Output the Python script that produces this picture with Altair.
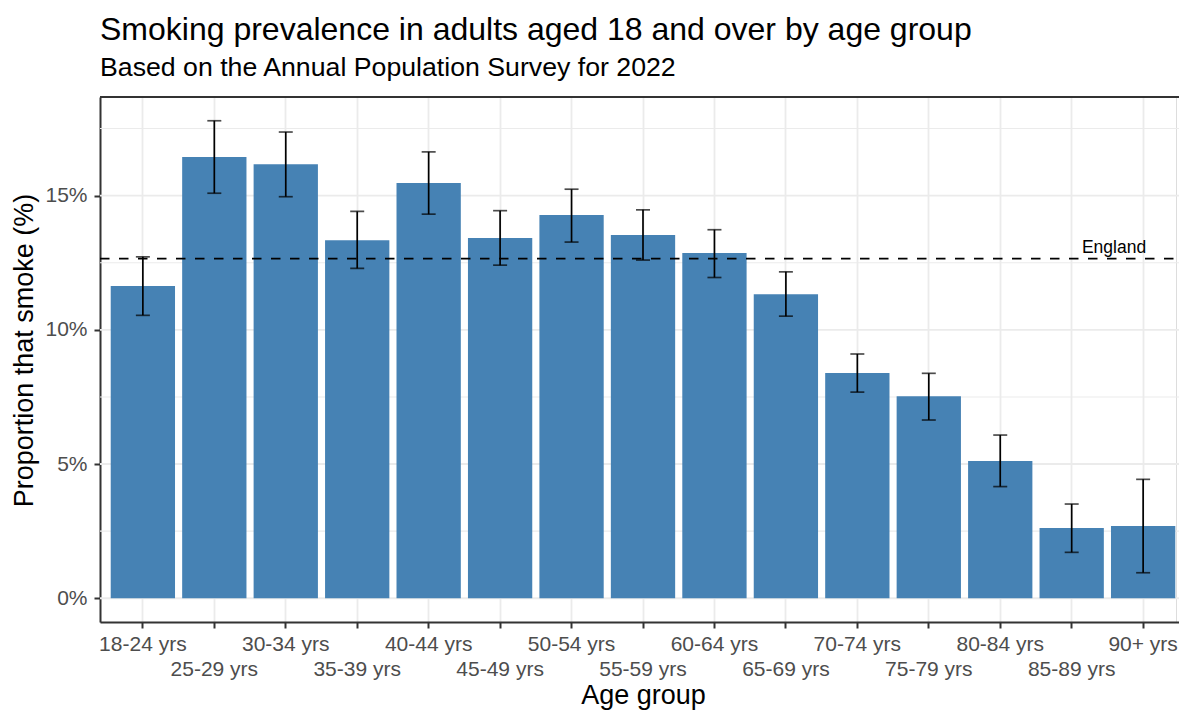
import altair as alt
import pandas as pd

categories = ["18-24 yrs", "25-29 yrs", "30-34 yrs", "35-39 yrs", "40-44 yrs",
              "45-49 yrs", "50-54 yrs", "55-59 yrs", "60-64 yrs", "65-69 yrs",
              "70-74 yrs", "75-79 yrs", "80-84 yrs", "85-89 yrs", "90+ yrs"]
prevalence = [11.63, 16.44, 16.17, 13.34, 15.47, 13.42, 14.28, 13.53, 12.86, 11.33,
              8.39, 7.53, 5.11, 2.62, 2.69]
lower = [10.54, 15.09, 14.96, 12.29, 14.31, 12.41, 13.27, 12.60, 11.95, 10.51,
         7.68, 6.64, 4.16, 1.71, 0.95]
upper = [12.72, 17.79, 17.37, 14.41, 16.63, 14.44, 15.24, 14.47, 13.73, 12.16,
         9.10, 8.38, 6.08, 3.51, 4.43]
england = 12.65
y_ticks = [0, 5, 10, 15]
minor_breaks = [2.5, 7.5, 12.5, 17.5]

FONT = "Liberation Sans"
W, H = 1076, 525      # drawn plot area (svg must fit the page width)
RANGE_W = 1086        # panel width of the reference (runs up to the page edge)

df = pd.DataFrame({"age": categories, "value": prevalence, "lo": lower, "hi": upper})
major_df = pd.DataFrame({"m": y_ticks})
minor_df = pd.DataFrame({"m": minor_breaks})
eng_df = pd.DataFrame({"age": ["90+ yrs"], "value": [england], "label": ["England"]})
one_df = pd.DataFrame({"a": [0]})

odd = categories[1::2]
odd_list = ",".join("'" + c + "'" for c in odd)
label_expr = f"indexof([{odd_list}], datum.value) >= 0 ? ['', datum.label] : datum.label"

x_scale = alt.Scale(domain=categories, paddingInner=0.1, paddingOuter=0.15, range=[0, RANGE_W])
y_scale = alt.Scale(domain=[-0.885, 18.675], nice=False, zero=False)

x_axis = alt.Axis(
    title="Age group", labelExpr=label_expr, labelAngle=0,
    labelFont=FONT, labelFontSize=21, labelColor="#4D4D4D",
    labelBaseline="top", labelLineHeight=25, labelPadding=5,
    labelOverlap=False, labelBound=False, labelFlush=False,
    grid=True, gridColor="#EBEBEB", gridWidth=1.8, bandPosition=0.5,
    domainColor="#333333", domainWidth=2, tickColor="#333333", tickWidth=2, tickSize=6,
    titleFont=FONT, titleFontSize=27, titleFontWeight="normal", titleColor="black",
    titleX=RANGE_W / 2, titleY=81, titleBaseline="alphabetic", titleAlign="center",
)
y_axis = alt.Axis(
    title="Proportion that smoke (%)", values=y_ticks, labelExpr="datum.value + '%'",
    labelFont=FONT, labelFontSize=21, labelColor="#4D4D4D", labelPadding=7,
    grid=False,
    domainColor="#333333", domainWidth=2, tickColor="#333333", tickWidth=2, tickSize=6,
    titleFont=FONT, titleFontSize=27, titleFontWeight="normal", titleColor="black",
    titleAngle=270, titleX=-67.7, titleY=253, titleAlign="center", titleBaseline="alphabetic",
)

minor = alt.Chart(minor_df).mark_rule(color="#EBEBEB", strokeWidth=1.1).encode(
    x=alt.value(0), x2=alt.value(RANGE_W),
    y=alt.Y("m:Q", scale=y_scale, axis=y_axis),
)
major = alt.Chart(major_df).mark_rule(color="#EBEBEB", strokeWidth=1.9).encode(
    x=alt.value(0), x2=alt.value(RANGE_W),
    y=alt.Y("m:Q", scale=y_scale, axis=y_axis),
)

bars = alt.Chart(df).mark_bar(color="#4682B4").encode(
    x=alt.X("age:N", sort=categories, scale=x_scale, axis=x_axis),
    y=alt.Y("value:Q", scale=y_scale, axis=y_axis),
    y2=alt.datum(0),
)

err = alt.Chart(df).mark_rule(color="black", strokeWidth=1.7).encode(
    x=alt.X("age:N", sort=categories, scale=x_scale),
    y=alt.Y("lo:Q", scale=y_scale),
    y2="hi:Q",
)
cap_lo = alt.Chart(df).mark_tick(color="black", thickness=1.7, size=14).encode(
    x=alt.X("age:N", sort=categories, scale=x_scale),
    y=alt.Y("lo:Q", scale=y_scale),
)
cap_hi = alt.Chart(df).mark_tick(color="black", thickness=1.7, size=14).encode(
    x=alt.X("age:N", sort=categories, scale=x_scale),
    y=alt.Y("hi:Q", scale=y_scale),
)

eng_line = alt.Chart(eng_df).mark_rule(color="black", strokeWidth=1.8, strokeDash=[9.5, 9.5]).encode(
    x=alt.value(0), x2=alt.value(RANGE_W),
    y=alt.Y("value:Q", scale=y_scale),
)
eng_text = alt.Chart(eng_df).mark_text(
    align="right", baseline="alphabetic", dx=3, dy=-6, font=FONT, fontSize=17.5, color="black"
).encode(
    x=alt.X("age:N", sort=categories, scale=x_scale),
    y=alt.Y("value:Q", scale=y_scale),
    text="label:N",
)

top_border = alt.Chart(one_df).mark_rule(color="#333333", strokeWidth=2).encode(
    x=alt.value(0), x2=alt.value(RANGE_W), y=alt.value(0)
)

chart = alt.layer(minor, major, bars, err, cap_lo, cap_hi, eng_line, eng_text, top_border).properties(
    width=W, height=H,
    autosize=alt.AutoSizeParams(type="none"),
    padding={"left": 92, "top": 89, "right": 3, "bottom": 90},
    title=alt.TitleParams(
        text="Smoking prevalence in adults aged 18 and over by age group",
        subtitle="Based on the Annual Population Survey for 2022",
        anchor="start", frame="group", font=FONT, fontSize=32, fontWeight="normal",
        color="black", subtitleFont=FONT, subtitleFontSize=26.7, subtitleColor="black",
        offset=13, subtitlePadding=8,
    ),
).configure_view(stroke=None).configure(background="white")

chart.save("out.html", embed_options={"renderer": "svg", "actions": False})
